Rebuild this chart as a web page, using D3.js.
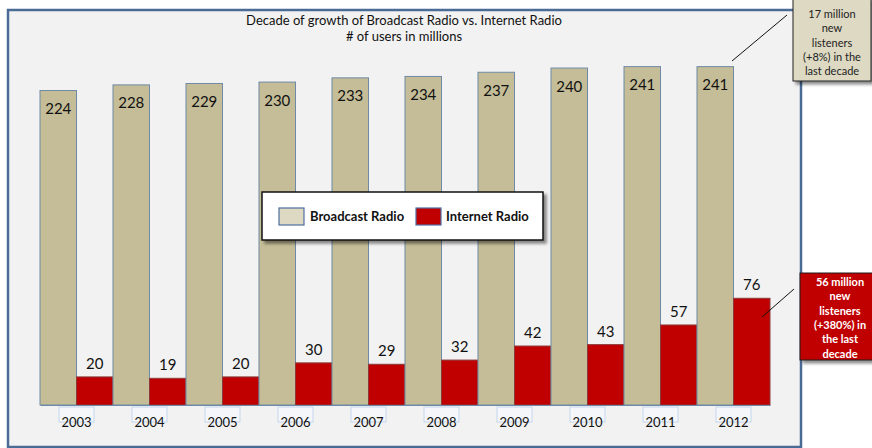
<!DOCTYPE html>
<html>
<head>
<meta charset="utf-8">
<script src="https://cdn.jsdelivr.net/npm/d3@7"></script>
<style>
  html, body { margin: 0; padding: 0; background: #ffffff; }
  svg { display: block; font-family: Lato, "Open Sans", "Liberation Sans", sans-serif; }
</style>
</head>
<body>
<svg id="chart" width="872" height="448"></svg>
<script>
// ---- data ----
const years = ["2003","2004","2005","2006","2007","2008","2009","2010","2011","2012"];
const broadcastRadio = [224, 228, 229, 230, 233, 234, 237, 240, 241, 241];
const internetRadio = [20, 19, 20, 30, 29, 32, 42, 43, 57, 76];
const seriesNames = ["Broadcast Radio", "Internet Radio"];
const titleLines = ["Decade of growth of Broadcast Radio vs. Internet Radio", "# of users in millions"];
const noteBroadcast = ["17 million", "new", "listeners", "(+8%) in the", "last decade"];
const noteInternet = ["56 million", "new", "listeners", "(+380%) in", "the last", "decade"];

// ---- layout ----
const svg = d3.select("#chart");
const colors = { "Broadcast Radio": "#c4bd97", "Internet Radio": "#c00000" };
const strokes = { "Broadcast Radio": "#6f8aa6", "Internet Radio": "#8a3a3a" };

const defs = svg.append("defs");
const f = defs.append("filter").attr("id", "shadow").attr("x", "-10%").attr("y", "-10%").attr("width", "130%").attr("height", "140%");
f.append("feDropShadow").attr("dx", 3).attr("dy", 3).attr("stdDeviation", 1.5).attr("flood-color", "#000").attr("flood-opacity", 0.45);

// outer frame
svg.append("rect")
  .attr("x", 8).attr("y", 10).attr("width", 793).attr("height", 437)
  .attr("fill", "#f2f2f2").attr("stroke", "#4a6b96").attr("stroke-width", 2.5);

// title
const title = svg.append("text").attr("text-anchor", "middle").attr("font-size", 13).attr("fill", "#111");
titleLines.forEach((t, i) => {
  title.append("tspan").attr("x", 404).attr("y", 25 + i * 16).text(t);
});

// scales
const x = d3.scaleBand().domain(years).range([40, 770]).padding(0);
const xs = d3.scaleBand().domain(seriesNames).range([0, x.bandwidth()]).padding(0);
const y = d3.scaleLinear().domain([0, 250]).range([405, 54]);

const rows = years.map((yr, i) => ({ year: yr, values: [
  { key: seriesNames[0], value: broadcastRadio[i] },
  { key: seriesNames[1], value: internetRadio[i] }
]}));

const g = svg.append("g");
const groups = g.selectAll("g.yr").data(rows).join("g")
  .attr("class", "yr")
  .attr("transform", d => `translate(${x(d.year)},0)`);

groups.selectAll("rect").data(d => d.values).join("rect")
  .attr("x", d => xs(d.key))
  .attr("y", d => y(d.value))
  .attr("width", xs.bandwidth())
  .attr("height", d => y(0) - y(d.value))
  .attr("fill", d => colors[d.key])
  .attr("stroke", d => strokes[d.key])
  .attr("stroke-width", 1);

// value labels
groups.selectAll("text.val").data(d => d.values).join("text")
  .attr("class", "val")
  .attr("x", d => xs(d.key) + xs.bandwidth() / 2)
  .attr("y", d => d.key === seriesNames[0] ? y(d.value) + 23.5 : y(d.value) - 8)
  .attr("text-anchor", "middle")
  .attr("font-size", 15)
  .attr("fill", "#111")
  .text(d => d.value);

// x axis with boxed labels
const axis = svg.append("g")
  .attr("transform", `translate(0,${y(0)})`)
  .call(d3.axisBottom(x).tickSize(0).tickPadding(13));
axis.select(".domain").attr("stroke", "#6f8aa6").attr("stroke-width", 1);
axis.selectAll(".tick text").attr("font-size", 13).attr("fill", "#111")
  .attr("font-family", "Lato, 'Open Sans', sans-serif");
axis.selectAll(".tick").insert("rect", "text")
  .attr("x", -17.5).attr("y", 2).attr("width", 35).attr("height", 15)
  .attr("fill", "#f4f6fa").attr("stroke", "#c6d6ee").attr("stroke-width", 1);

// legend
const lg = svg.append("g").attr("transform", "translate(262,192)");
lg.append("rect").attr("width", 281).attr("height", 48)
  .attr("fill", "#ffffff").attr("stroke", "#111").attr("stroke-width", 1.5)
  .attr("filter", "url(#shadow)");
const legendPos = [{ sx: 17, tx: 48 }, { sx: 154, tx: 184 }];
const legendFill = { "Broadcast Radio": "#ddd9c3", "Internet Radio": "#c00000" };
seriesNames.forEach((s, i) => {
  lg.append("rect").attr("x", legendPos[i].sx).attr("y", 16).attr("width", 25).attr("height", 17)
    .attr("fill", legendFill[s]).attr("stroke", "#4f6f9f").attr("stroke-width", 1.2);
  lg.append("text").attr("x", legendPos[i].tx).attr("y", 29)
    .attr("font-size", 13).attr("font-weight", "bold").attr("fill", "#111").text(s);
});

// leader lines
svg.append("line").attr("x1", 787).attr("y1", 15).attr("x2", 732).attr("y2", 61)
  .attr("stroke", "#111").attr("stroke-width", 1);
svg.append("line").attr("x1", 794).attr("y1", 289).attr("x2", 762).attr("y2", 317)
  .attr("stroke", "#111").attr("stroke-width", 1);

// annotation: broadcast
const n1 = svg.append("g");
n1.append("rect").attr("x", 793).attr("y", -3).attr("width", 78).attr("height", 84)
  .attr("fill", "#ddd9c3").attr("stroke", "#222").attr("stroke-width", 1)
  .attr("filter", "url(#shadow)");
const t1 = n1.append("text").attr("text-anchor", "middle").attr("font-size", 11).attr("fill", "#222");
noteBroadcast.forEach((t, i) => t1.append("tspan").attr("x", 832).attr("y", 18 + i * 14.3).text(t));

// annotation: internet
const n2 = svg.append("g");
n2.append("rect").attr("x", 800).attr("y", 273).attr("width", 75).attr("height", 87)
  .attr("fill", "#c00000").attr("stroke", "#222").attr("stroke-width", 1)
  .attr("filter", "url(#shadow)");
const t2 = n2.append("text").attr("text-anchor", "middle").attr("font-size", 11)
  .attr("font-weight", "bold").attr("fill", "#ffffff");
noteInternet.forEach((t, i) => t2.append("tspan").attr("x", 840).attr("y", 286 + i * 14.3).text(t));
</script>
</body>
</html>
